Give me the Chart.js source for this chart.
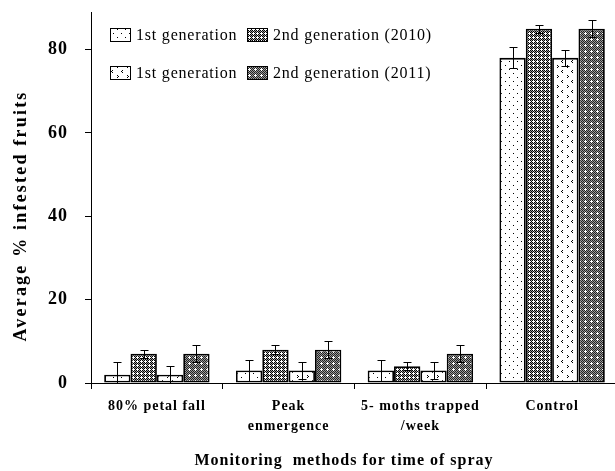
<!DOCTYPE html>
<html>
<head>
<meta charset="utf-8">
<script src="https://cdn.jsdelivr.net/npm/chart.js@4/dist/chart.umd.min.js"></script>
<style>
  html, body { margin: 0; padding: 0; background: #fff; overflow: hidden; }
  #wrap { width: 618px; height: 471px; }
</style>
</head>
<body>
<div id="wrap"><canvas id="c" width="618" height="471"></canvas></div>
<script>
// Monitoring methods (x categories, multi-line labels)
const categories = [['80% petal fall'], ['Peak', 'enmergence'], ['5- moths trapped', '/week'], ['Control']];
const seriesNames = ['1st generation', '2nd generation (2010)', '1st generation', '2nd generation (2011)'];

// Average % infested fruits per series
const gen1_2010 = [2, 3, 3, 78];
const gen2_2010 = [7, 8, 4, 85];
const gen1_2011 = [2, 3, 3, 78];
const gen2_2011 = [7, 8, 7, 85];

// Error bar half-lengths
const err_gen1_2010 = [3, 2.5, 2.5, 2.5];
const err_gen2_2010 = [1, 1, 1, 1];
const err_gen1_2011 = [2, 2, 2, 2];
const err_gen2_2011 = [2, 2, 2, 2];

const yTicks = [0, 20, 40, 60, 80];
const yTitle = 'Average % infested fruits';
const xTitle = 'Monitoring  methods for time of spray';

const SERIF = '"Liberation Serif", "Times New Roman", serif';

// ---- fill patterns -------------------------------------------------------
function tilePattern(w, h, colorAt) {
  const cv = document.createElement('canvas');
  cv.width = w; cv.height = h;
  const g = cv.getContext('2d');
  for (let y = 0; y < h; y++) for (let x = 0; x < w; x++) {
    g.fillStyle = colorAt(x, y);
    g.fillRect(x, y, 1, 1);
  }
  return g.createPattern(cv, 'repeat');
}
function inPlus(x, y, cx, cy) {
  return (x === cx && Math.abs(y - cy) <= 1) || (y === cy && Math.abs(x - cx) <= 1);
}
function inList(x, y, list) { return list.some(([a, b]) => a === x && b === y); }

// sparse dots on white
const patDots = tilePattern(8, 8, (x, y) => inList(x, y, [[1, 1], [5, 5]]) ? '#000' : '#fff');
// gray dither with white crosses
const patCross = tilePattern(4, 4, (x, y) =>
  inPlus(x, y, 1, 1) ? '#fff' : ((x + y) % 2 === 0 ? '#000' : '#a0a0a0'));
// chevrons on white
const patChevron = tilePattern(10, 10, (x, y) =>
  inList(x, y, [[2, 0], [1, 1], [2, 2], [7, 5], [8, 6], [7, 7]]) ? '#000' : '#fff');
// dark gray dither with small white plus
const patDark = tilePattern(6, 6, (x, y) =>
  inPlus(x, y, 3, 3) ? '#fff' : ((x + y) % 2 === 0 ? '#222' : '#9a9a9a'));

const fills = [patDots, patCross, patChevron, patDark];
const values = [gen1_2010, gen2_2010, gen1_2011, gen2_2011];
const errors = [err_gen1_2010, err_gen2_2010, err_gen1_2011, err_gen2_2011];

// ---- error bars ----------------------------------------------------------
const errorBars = {
  id: 'errorBars',
  afterDatasetsDraw(chart) {
    const { ctx, chartArea } = chart;
    const ys = chart.scales.y;
    ctx.save();
    ctx.beginPath();
    ctx.rect(chartArea.left, chartArea.top - 10, chartArea.right - chartArea.left, chartArea.bottom - chartArea.top + 10);
    ctx.clip();
    ctx.strokeStyle = '#000';
    ctx.lineWidth = 1;
    chart.data.datasets.forEach((ds, i) => {
      const meta = chart.getDatasetMeta(i);
      meta.data.forEach((bar, j) => {
        const v = ds.data[j], e = ds.errors[j];
        const x = Math.round(bar.x) + 0.5;
        const yt = Math.round(ys.getPixelForValue(v + e)) + 0.5;
        const yb = Math.round(ys.getPixelForValue(v - e)) + 0.5;
        ctx.beginPath();
        ctx.moveTo(x, yt); ctx.lineTo(x, yb);
        ctx.moveTo(x - 4, yt); ctx.lineTo(x + 4, yt);
        ctx.moveTo(x - 4, yb); ctx.lineTo(x + 4, yb);
        ctx.stroke();
      });
    });
    ctx.restore();
  }
};

// ---- spacing for axis tick text --------------------------------------------
const tickSpacing = {
  id: 'tickSpacing',
  beforeDraw(chart) { chart.ctx.letterSpacing = '1px'; },
  beforeDatasetsDraw(chart) { chart.ctx.letterSpacing = '0px'; }
};

// ---- legend (2 x 2) and axis titles ---------------------------------------
const decorations = {
  id: 'decorations',
  afterDraw(chart) {
    const { ctx } = chart;
    ctx.save();
    // legend
    const cols = [110, 247];
    const rows = [28, 66];
    ctx.font = '16px ' + SERIF;
    ctx.letterSpacing = '0.8px';
    ctx.textBaseline = 'middle';
    const order = [[0, 0, 0], [1, 1, 0], [2, 0, 1], [3, 1, 1]];
    order.forEach(([s, c, r]) => {
      const x = cols[c], y = rows[r];
      ctx.fillStyle = fills[s];
      ctx.fillRect(x, y, 20, 13);
      ctx.strokeStyle = '#000';
      ctx.lineWidth = 1;
      ctx.strokeRect(x + 0.5, y + 0.5, 20, 13);
      ctx.fillStyle = '#000';
      ctx.fillText(seriesNames[s], x + 26, y + 8);
    });
    // y title
    ctx.font = 'bold 18px ' + SERIF;
    ctx.textAlign = 'center';
    ctx.textBaseline = 'middle';
    ctx.letterSpacing = '2.2px';
    ctx.save();
    ctx.translate(21, 216);
    ctx.rotate(-Math.PI / 2);
    ctx.fillText(yTitle, 0, 0);
    ctx.restore();
    // x title
    ctx.font = 'bold 16px ' + SERIF;
    ctx.letterSpacing = '1px';
    ctx.fillText(xTitle, 344, 461);
    ctx.restore();
  }
};

new Chart(document.getElementById('c'), {
  type: 'bar',
  data: {
    labels: categories,
    datasets: values.map((v, i) => ({
      label: seriesNames[i],
      data: v,
      errors: errors[i],
      backgroundColor: fills[i],
      borderColor: '#000',
      borderWidth: 1.8,
      borderSkipped: false,
      categoryPercentage: 0.8,
      barPercentage: 1.0
    }))
  },
  options: {
    responsive: false,
    devicePixelRatio: 1,
    animation: false,
    layout: { padding: { top: 12, left: 0, right: 0, bottom: 0 } },
    plugins: { legend: { display: false }, tooltip: { enabled: false } },
    scales: {
      x: {
        afterFit(scale) {
          scale.height = 88;
          scale.paddingLeft = 0; scale.paddingRight = 0;
        },
        border: { display: true, color: '#000', width: 1 },
        grid: { drawOnChartArea: false, drawTicks: true, tickLength: 6, color: '#000', offset: true },
        ticks: {
          color: '#000',
          padding: 7,
          maxRotation: 0,
          autoSkip: false,
          font: { family: SERIF, size: 14, weight: 'bold', lineHeight: 1.45 }
        }
      },
      y: {
        min: 0,
        max: 89,
        afterFit(scale) {
          scale.width = 91;
          scale.paddingTop = 0; scale.paddingBottom = 0;
        },
        afterBuildTicks(scale) { scale.ticks = yTicks.map(v => ({ value: v })); },
        border: { display: true, color: '#000', width: 1 },
        grid: { drawOnChartArea: false, drawTicks: true, tickLength: 6, color: '#000' },
        ticks: {
          color: '#000',
          padding: 17,
          font: { family: SERIF, size: 18, weight: 'bold' }
        }
      }
    }
  },
  plugins: [tickSpacing, errorBars, decorations]
});
</script>
</body>
</html>
